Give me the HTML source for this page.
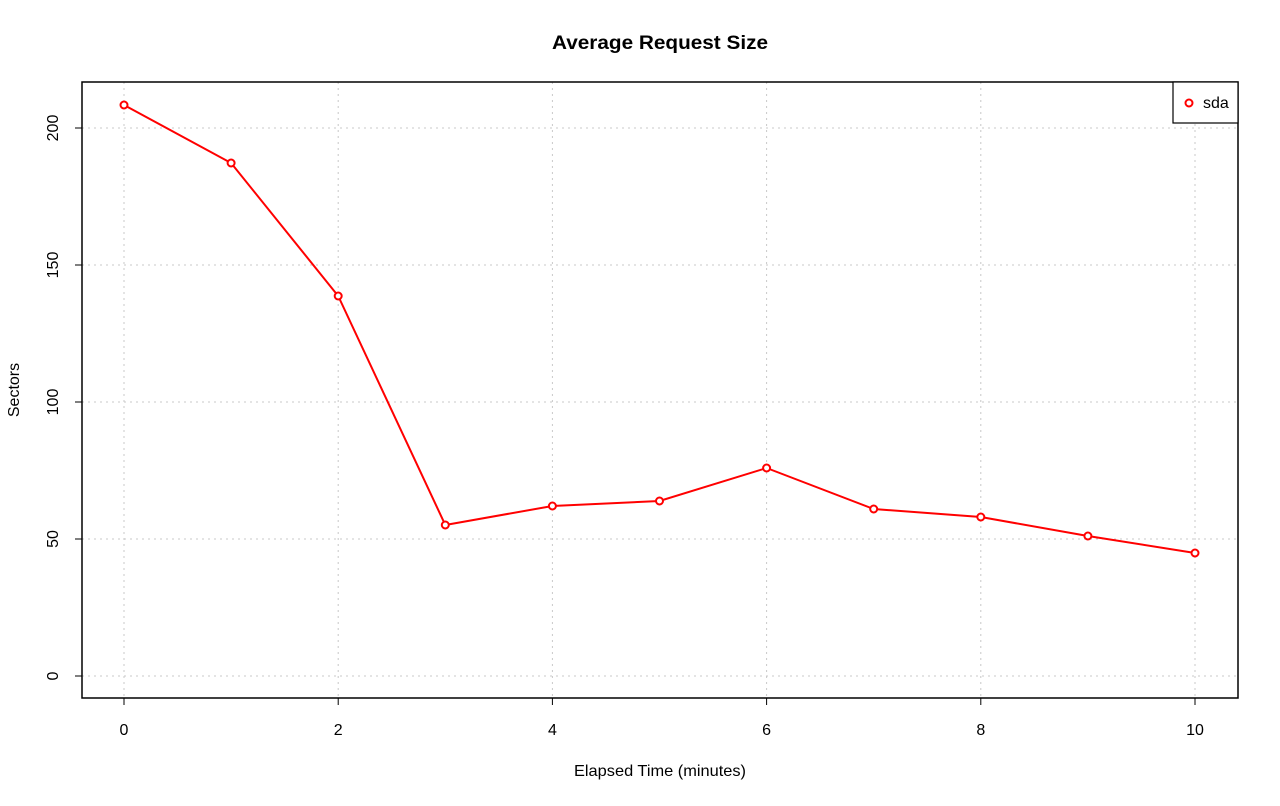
<!DOCTYPE html>
<html><head><meta charset="utf-8"><style>body{margin:0;background:#fff}</style></head><body>
<svg width="1280" height="801" xmlns="http://www.w3.org/2000/svg" font-family="Liberation Sans, sans-serif">
<rect width="1280" height="801" fill="#fff"/>
<text x="660" y="49" font-size="19.5" font-weight="bold" text-anchor="middle" textLength="216" lengthAdjust="spacingAndGlyphs">Average Request Size</text>
<g stroke="#c8c8c8" stroke-dasharray="2,4" stroke-width="1">
<line x1="124" y1="82" x2="124" y2="698"/><line x1="338.2" y1="82" x2="338.2" y2="698"/><line x1="552.4" y1="82" x2="552.4" y2="698"/><line x1="766.6" y1="82" x2="766.6" y2="698"/><line x1="980.8" y1="82" x2="980.8" y2="698"/><line x1="1195" y1="82" x2="1195" y2="698"/>
<line x1="82" y1="676" x2="1238" y2="676"/><line x1="82" y1="539" x2="1238" y2="539"/><line x1="82" y1="402" x2="1238" y2="402"/><line x1="82" y1="265" x2="1238" y2="265"/><line x1="82" y1="128" x2="1238" y2="128"/>
</g>
<rect x="82" y="82" width="1156" height="616" fill="none" stroke="#000" stroke-width="1.5"/>
<g stroke="#000"><line x1="124" y1="698" x2="124" y2="705"/><line x1="338.2" y1="698" x2="338.2" y2="705"/><line x1="552.4" y1="698" x2="552.4" y2="705"/><line x1="766.6" y1="698" x2="766.6" y2="705"/><line x1="980.8" y1="698" x2="980.8" y2="705"/><line x1="1195" y1="698" x2="1195" y2="705"/>
<line x1="75" y1="676" x2="82" y2="676"/><line x1="75" y1="539" x2="82" y2="539"/><line x1="75" y1="402" x2="82" y2="402"/><line x1="75" y1="265" x2="82" y2="265"/><line x1="75" y1="128" x2="82" y2="128"/></g>
<g font-size="16" text-anchor="middle"><text x="124" y="735">0</text><text x="338.2" y="735">2</text><text x="552.4" y="735">4</text><text x="766.6" y="735">6</text><text x="980.8" y="735">8</text><text x="1195" y="735">10</text>
<text transform="translate(58,676) rotate(-90)">0</text><text transform="translate(58,539) rotate(-90)">50</text><text transform="translate(58,402) rotate(-90)">100</text><text transform="translate(58,265) rotate(-90)">150</text><text transform="translate(58,128) rotate(-90)">200</text>
<text x="660" y="776" textLength="172" lengthAdjust="spacingAndGlyphs">Elapsed Time (minutes)</text><text transform="translate(19,390) rotate(-90)">Sectors</text></g>
<polyline fill="none" stroke="#f00" stroke-width="2" points="124,105 231.1,163 338.2,296 445.3,525 552.4,506 659.5,501 766.6,468 873.7,509 980.8,517 1087.9,536 1195,553"/>
<g fill="#fff" stroke="#f00" stroke-width="2"><circle cx="124" cy="105" r="3.5"/><circle cx="231.1" cy="163" r="3.5"/><circle cx="338.2" cy="296" r="3.5"/><circle cx="445.3" cy="525" r="3.5"/><circle cx="552.4" cy="506" r="3.5"/><circle cx="659.5" cy="501" r="3.5"/><circle cx="766.6" cy="468" r="3.5"/><circle cx="873.7" cy="509" r="3.5"/><circle cx="980.8" cy="517" r="3.5"/><circle cx="1087.9" cy="536" r="3.5"/><circle cx="1195" cy="553" r="3.5"/></g>
<rect x="1173" y="82" width="65" height="41" fill="#fff" stroke="#000" stroke-width="1.2"/>
<circle cx="1189" cy="103" r="3.5" fill="#fff" stroke="#f00" stroke-width="2"/>
<text x="1203" y="108" font-size="16">sda</text>
</svg>
</body></html>
